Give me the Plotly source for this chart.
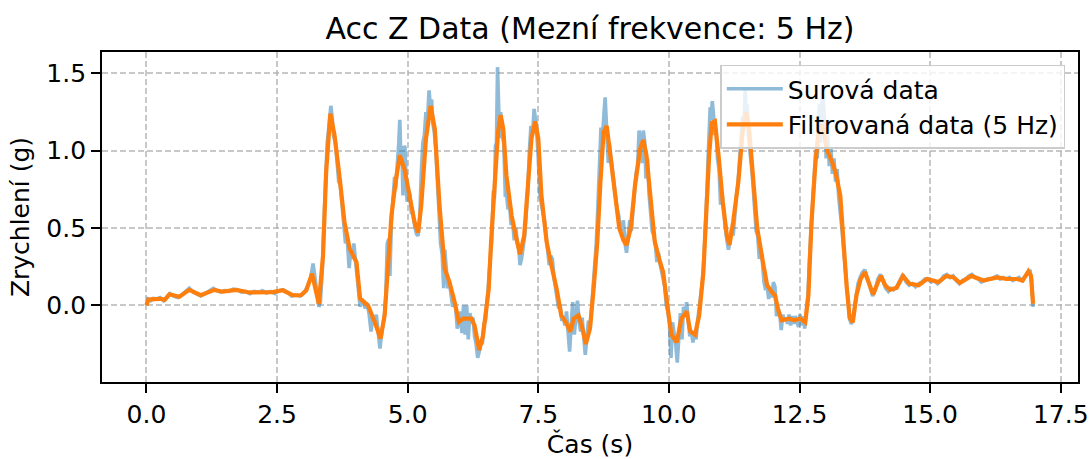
import plotly.graph_objects as go

# ---- data ----
filt_t = [0.00, 0.04, 0.15, 0.27, 0.35, 0.44, 0.63, 0.82, 1.04, 1.30, 1.46, 1.72, 1.97, 2.23, 2.42, 2.61,
          2.80, 2.96, 3.06, 3.17, 3.30, 3.38, 3.44, 3.52, 3.60, 3.70, 3.79, 3.89, 4.02, 4.09, 4.24, 4.37,
          4.48, 4.56, 4.62, 4.69, 4.77, 4.85, 4.94, 5.04, 5.13, 5.20, 5.26, 5.35, 5.44, 5.52, 5.61, 5.71,
          5.80, 5.90, 5.98, 6.06, 6.22, 6.28, 6.37, 6.44, 6.50, 6.55, 6.60, 6.67, 6.73, 6.78, 6.83, 6.89,
          6.99, 7.07, 7.15, 7.23, 7.31, 7.37, 7.44, 7.50, 7.56, 7.66, 7.75, 7.85, 7.94, 8.03, 8.11, 8.18,
          8.27, 8.33, 8.41, 8.49, 8.56, 8.63, 8.69, 8.75, 8.81, 8.88, 8.97, 9.05, 9.13, 9.19, 9.27, 9.35,
          9.45, 9.51, 9.57, 9.65, 9.73, 9.83, 9.89, 9.97, 10.05, 10.15, 10.24, 10.34, 10.41, 10.50, 10.58,
          10.66, 10.72, 10.77, 10.82, 10.88, 10.95, 11.03, 11.11, 11.16, 11.23, 11.33, 11.41, 11.48, 11.54,
          11.62, 11.69, 11.80, 11.88, 11.97, 12.03, 12.10, 12.16, 12.29, 12.41, 12.51, 12.61, 12.67, 12.73,
          12.80, 12.86, 12.93, 13.02, 13.12, 13.19, 13.28, 13.34, 13.40, 13.46, 13.52, 13.59, 13.67, 13.75,
          13.83, 13.91, 13.99, 14.06, 14.14, 14.23, 14.36, 14.48, 14.60, 14.78, 14.94, 15.16, 15.31, 15.45,
          15.57, 15.79, 16.02, 16.28, 16.47, 16.66, 16.77, 16.88, 16.93, 16.97]
filt_v = [0.00, 0.037, 0.04, 0.042, 0.035, 0.071, 0.055, 0.10, 0.065, 0.10, 0.088, 0.10, 0.083, 0.088, 0.085, 0.097,
          0.065, 0.065, 0.097, 0.204, 0.01, 0.32, 0.86, 1.24, 1.10, 0.82, 0.54, 0.366, 0.28, 0.043, 0.0, -0.108,
          -0.215, -0.065, 0.215, 0.58, 0.80, 0.97, 0.88, 0.69, 0.54, 0.47, 0.645, 1.076, 1.29, 1.14, 0.645, 0.237,
          0.15, 0.02, -0.108, -0.086, -0.086, -0.13, -0.29, -0.20, -0.05, 0.10, 0.43, 0.80, 1.12, 1.23, 1.14, 0.84,
          0.58, 0.45, 0.33, 0.45, 0.80, 1.08, 1.19, 1.08, 0.71, 0.41, 0.26, 0.11, -0.065, -0.11, -0.17, -0.086,
          -0.065, -0.13, -0.25, -0.15, 0.11, 0.41, 0.80, 1.12, 1.16, 0.97, 0.71, 0.50, 0.42, 0.39, 0.50, 0.77,
          1.01, 1.07, 0.97, 0.65, 0.41, 0.28, 0.215, 0.0, -0.19, -0.24, -0.086, -0.04, -0.17, -0.19, -0.065,
          0.215, 0.65, 0.97, 1.18, 1.19, 0.97, 0.67, 0.45, 0.39, 0.54, 0.80, 1.12, 1.25, 1.12,
          0.80, 0.50, 0.28, 0.13, 0.086, 0.065, -0.04, -0.097, -0.086, -0.097, -0.086, -0.11, 0.065, 0.54,
          0.90, 1.12, 1.17, 1.01, 0.93, 0.86, 0.71, 0.41, 0.13, -0.08, -0.11, 0.065, 0.17, 0.215,
          0.14, 0.07, 0.14, 0.19, 0.13, 0.10, 0.114, 0.19, 0.14, 0.13, 0.17, 0.15, 0.19, 0.18,
          0.145, 0.19, 0.16, 0.18, 0.17, 0.17, 0.16, 0.22, 0.19, 0.01]

raw_t = [0.00, 0.03, 0.08, 0.13, 0.20, 0.26, 0.33, 0.40, 0.45, 0.52, 0.60, 0.67, 0.75, 0.82, 0.90, 0.97,
         1.04, 1.12, 1.20, 1.28, 1.35, 1.42, 1.50, 1.58, 1.66, 1.74, 1.82, 1.90, 1.98, 2.06, 2.14, 2.22,
         2.30, 2.38, 2.46, 2.54, 2.62, 2.70, 2.78, 2.86, 2.94, 3.02, 3.08, 3.14, 3.19, 3.22, 3.26, 3.30,
         3.33, 3.37, 3.40, 3.43, 3.46, 3.50, 3.53, 3.56, 3.58, 3.62, 3.65, 3.68, 3.71, 3.75, 3.78, 3.81,
         3.84, 3.86, 3.88, 3.91, 3.94, 3.97, 4.00, 4.03, 4.06, 4.09, 4.12, 4.15, 4.19, 4.22, 4.26, 4.30,
         4.33, 4.37, 4.40, 4.44, 4.47, 4.50, 4.53, 4.56, 4.58, 4.61, 4.64, 4.66, 4.69, 4.72, 4.75, 4.77,
         4.80, 4.83, 4.85, 4.87, 4.89, 4.91, 4.93, 4.95, 4.97, 4.99, 5.01, 5.04, 5.07, 5.10, 5.13, 5.17,
         5.20, 5.23, 5.26, 5.29, 5.32, 5.35, 5.38, 5.41, 5.43, 5.46, 5.48, 5.51, 5.54, 5.57, 5.60, 5.63,
         5.66, 5.69, 5.71, 5.74, 5.77, 5.80, 5.83, 5.86, 5.89, 5.92, 5.95, 5.98, 6.01, 6.04, 6.07, 6.10,
         6.13, 6.16, 6.19, 6.22, 6.25, 6.28, 6.31, 6.34, 6.37, 6.40, 6.43, 6.46, 6.49, 6.52, 6.55, 6.58,
         6.61, 6.64, 6.66, 6.68, 6.70, 6.72, 6.74, 6.76, 6.78, 6.81, 6.84, 6.87, 6.89, 6.92, 6.95, 6.98,
         7.01, 7.04, 7.07, 7.10, 7.13, 7.15, 7.18, 7.21, 7.24, 7.27, 7.30, 7.33, 7.36, 7.39, 7.42, 7.44,
         7.47, 7.50, 7.53, 7.56, 7.59, 7.62, 7.65, 7.68, 7.71, 7.74, 7.77, 7.80, 7.83, 7.86, 7.89, 7.92,
         7.95, 7.98, 8.01, 8.04, 8.07, 8.10, 8.13, 8.16, 8.19, 8.22, 8.25, 8.28, 8.31, 8.34, 8.37, 8.40,
         8.43, 8.46, 8.49, 8.52, 8.55, 8.58, 8.61, 8.64, 8.67, 8.70, 8.72, 8.74, 8.76, 8.78, 8.80, 8.82,
         8.84, 8.86, 8.89, 8.92, 8.95, 8.98, 9.01, 9.04, 9.07, 9.10, 9.13, 9.16, 9.19, 9.22, 9.25, 9.28,
         9.31, 9.34, 9.37, 9.40, 9.43, 9.46, 9.49, 9.51, 9.54, 9.56, 9.59, 9.62, 9.65, 9.68, 9.71, 9.74,
         9.77, 9.80, 9.83, 9.86, 9.89, 9.92, 9.95, 9.98, 10.01, 10.04, 10.07, 10.10, 10.13, 10.16, 10.19, 10.22,
         10.25, 10.28, 10.31, 10.34, 10.37, 10.40, 10.43, 10.46, 10.49, 10.52, 10.55, 10.58, 10.61, 10.64, 10.67, 10.70,
         10.73, 10.75, 10.77, 10.79, 10.81, 10.83, 10.85, 10.88, 10.90, 10.93, 10.96, 10.99, 11.02, 11.05, 11.08, 11.11,
         11.14, 11.17, 11.20, 11.23, 11.26, 11.29, 11.32, 11.35, 11.38, 11.41, 11.44, 11.46, 11.48, 11.50, 11.52, 11.55,
         11.58, 11.61, 11.64, 11.67, 11.70, 11.73, 11.76, 11.79, 11.82, 11.85, 11.88, 11.91, 11.94, 11.97, 12.00, 12.03,
         12.06, 12.09, 12.12, 12.15, 12.18, 12.21, 12.24, 12.27, 12.30, 12.33, 12.36, 12.39, 12.42, 12.45, 12.48, 12.51,
         12.54, 12.57, 12.60, 12.63, 12.66, 12.69, 12.72, 12.75, 12.78, 12.81, 12.84, 12.86, 12.88, 12.90, 12.92, 12.94,
         12.96, 12.99, 13.01, 13.04, 13.07, 13.10, 13.13, 13.16, 13.19, 13.22, 13.25, 13.28, 13.31, 13.34, 13.37, 13.40,
         13.43, 13.46, 13.49, 13.52, 13.55, 13.58, 13.62, 13.66, 13.70, 13.75, 13.80, 13.85, 13.90, 13.95, 14.00, 14.05,
         14.10, 14.15, 14.20, 14.25, 14.30, 14.36, 14.42, 14.48, 14.54, 14.60, 14.66, 14.72, 14.78, 14.84, 14.90, 14.96,
         15.02, 15.08, 15.14, 15.20, 15.26, 15.32, 15.38, 15.44, 15.50, 15.56, 15.62, 15.68, 15.74, 15.80, 15.86, 15.92,
         15.98, 16.04, 16.10, 16.16, 16.22, 16.28, 16.34, 16.40, 16.46, 16.52, 16.58, 16.64, 16.70, 16.76, 16.82, 16.87,
         16.91, 16.94, 16.97]
raw_v = [0.00, 0.04, 0.03, 0.045, 0.04, 0.05, 0.03, 0.06, 0.075, 0.06, 0.05, 0.065, 0.09, 0.11, 0.085, 0.075,
         0.06, 0.075, 0.09, 0.11, 0.095, 0.085, 0.095, 0.09, 0.105, 0.10, 0.085, 0.09, 0.075, 0.09, 0.085, 0.095,
         0.08, 0.09, 0.075, 0.095, 0.10, 0.085, 0.06, 0.065, 0.06, 0.08, 0.12, 0.17, 0.27, 0.20, 0.08, -0.01,
         0.02, 0.25, 0.55, 0.85, 1.05, 1.18, 1.29, 1.20, 1.10, 1.05, 0.95, 0.80, 0.78, 0.60, 0.50, 0.40,
         0.45, 0.29, 0.24, 0.35, 0.30, 0.40, 0.30, 0.20, 0.08, -0.01, 0.04, 0.02, -0.02, 0.01, -0.05, -0.17,
         -0.08, -0.12, -0.06, -0.20, -0.28, -0.19, -0.12, -0.05, 0.05, 0.40, 0.43, 0.19, 0.55, 0.72, 0.83, 0.75,
         0.88, 1.05, 1.20, 0.95, 1.00, 0.71, 1.03, 1.02, 0.80, 0.67, 0.75, 0.72, 0.60, 0.60, 0.52, 0.46,
         0.45, 0.55, 0.85, 1.05, 1.10, 1.25, 1.20, 1.39, 1.30, 1.33, 1.18, 1.12, 1.00, 0.80, 0.60, 0.40,
         0.33, 0.11, 0.36, 0.25, 0.11, 0.15, 0.08, -0.01, 0.03, -0.02, -0.15, -0.12, -0.04, -0.18, 0.00, -0.19,
         0.00, -0.22, -0.05, -0.10, -0.08, -0.20, -0.25, -0.34, -0.30, -0.24, -0.25, -0.12, -0.10, 0.00, 0.15, 0.30,
         0.42, 0.74, 0.69, 1.03, 1.05, 1.54, 1.20, 1.08, 1.25, 1.10, 1.05, 0.70, 0.73, 0.62, 0.65, 0.52,
         0.54, 0.42, 0.50, 0.40, 0.36, 0.26, 0.30, 0.39, 0.45, 0.60, 0.75, 1.00, 1.16, 1.10, 1.27, 1.22,
         1.12, 0.95, 0.72, 0.65, 0.60, 0.54, 0.45, 0.36, 0.26, 0.32, 0.30, 0.18, 0.10, 0.05, -0.02, 0.00,
         -0.10, -0.08, -0.13, -0.04, -0.18, -0.30, -0.12, 0.02, -0.19, -0.05, 0.03, -0.10, -0.17, -0.08, -0.22, -0.32,
         -0.20, -0.10, -0.16, -0.02, 0.10, 0.25, 0.40, 0.63, 0.93, 1.15, 1.05, 1.20, 1.25, 1.345, 1.22, 1.00,
         0.92, 1.05, 0.95, 0.88, 0.75, 0.70, 0.62, 0.58, 0.48, 0.50, 0.55, 0.40, 0.34, 0.44, 0.55, 0.48,
         0.62, 0.70, 0.85, 0.90, 1.13, 1.05, 0.92, 1.13, 1.05, 0.82, 0.95, 0.72, 0.60, 0.48, 0.45, 0.40,
         0.28, 0.34, 0.27, 0.22, 0.15, 0.12, 0.00, -0.04, -0.12, -0.34, -0.11, -0.17, -0.25, -0.37, -0.15, -0.05,
         -0.22, -0.01, -0.05, 0.02, -0.10, -0.20, -0.16, -0.24, -0.17, -0.22, -0.10, -0.02, 0.05, 0.15, 0.30, 0.50,
         0.75, 0.95, 1.10, 1.28, 1.20, 1.32, 1.25, 1.10, 1.15, 0.95, 0.88, 0.65, 0.72, 0.58, 0.50, 0.42,
         0.36, 0.42, 0.50, 0.45, 0.62, 0.70, 0.78, 0.95, 1.05, 1.22, 1.20, 1.39, 1.25, 1.30, 1.10, 1.02,
         0.90, 0.78, 0.62, 0.48, 0.45, 0.30, 0.36, 0.28, 0.15, 0.10, 0.13, 0.04, 0.11, 0.05, 0.15, 0.12,
         -0.07, -0.02, -0.05, -0.16, -0.06, -0.10, -0.08, -0.12, -0.06, -0.13, -0.07, -0.12, -0.07, -0.10, -0.14, -0.06,
         -0.13, -0.07, -0.15, -0.04, 0.06, 0.30, 0.50, 0.65, 0.80, 1.00, 0.95, 1.25, 1.30, 1.05, 1.20, 1.40,
         1.30, 1.15, 0.95, 1.10, 0.90, 1.02, 0.85, 0.95, 0.80, 0.88, 0.70, 0.62, 0.50, 0.38, 0.25, 0.10,
         -0.02, -0.09, -0.12, -0.10, -0.02, 0.05, 0.14, 0.18, 0.21, 0.23, 0.17, 0.11, 0.06, 0.10, 0.17, 0.20,
         0.16, 0.11, 0.09, 0.11, 0.10, 0.12, 0.16, 0.20, 0.15, 0.13, 0.14, 0.12, 0.14, 0.15, 0.17, 0.17,
         0.15, 0.16, 0.14, 0.16, 0.19, 0.20, 0.18, 0.19, 0.16, 0.14, 0.16, 0.17, 0.19, 0.20, 0.18, 0.17,
         0.15, 0.16, 0.17, 0.17, 0.18, 0.19, 0.17, 0.18, 0.17, 0.18, 0.16, 0.17, 0.18, 0.16, 0.19, 0.22,
         0.23, 0.17, -0.01]

x_ticks = [0.0, 2.5, 5.0, 7.5, 10.0, 12.5, 15.0, 17.5]
y_ticks = [0.0, 0.5, 1.0, 1.5]

FONT = "DejaVu Sans"

fig = go.Figure()
fig.add_trace(go.Scatter(x=raw_t, y=raw_v, mode="lines", name="Surová data",
                         line=dict(color="rgba(31,119,180,0.5)", width=3.6)))
fig.add_trace(go.Scatter(x=filt_t, y=filt_v, mode="lines", name="Filtrovaná data (5 Hz)",
                         line=dict(color="#ff7f0e", width=4.2)))

axis_common = dict(
    showline=True, linecolor="black", linewidth=1.8, mirror=True,
    ticks="outside", ticklen=9, tickwidth=1.8, tickcolor="black",
    showgrid=True, gridcolor="rgba(176,176,176,0.7)", gridwidth=1.5, griddash="6px,3px",
    zeroline=False, automargin=False,
    tickfont=dict(family=FONT, size=25, color="black"),
)

fig.update_xaxes(range=[-0.85, 17.83], tickvals=x_ticks, ticktext=[f"{v:.1f}" for v in x_ticks],
                 title=dict(text="Čas (s)", font=dict(family=FONT, size=25, color="black"), standoff=6),
                 **axis_common)
fig.update_yaxes(range=[-0.496, 1.638], tickvals=y_ticks, ticktext=[f"{v:.1f}" for v in y_ticks],
                 title=dict(text="Zrychlení (g)", font=dict(family=FONT, size=25, color="black"), standoff=10),
                 **axis_common)

fig.update_layout(
    width=1090, height=459,
    margin=dict(l=102, r=12, t=52, b=77, autoexpand=False),
    plot_bgcolor="white", paper_bgcolor="white",
    font=dict(family=FONT, size=25, color="black"),
    title=dict(text="Acc Z Data (Mezní frekvence: 5 Hz)", x=0.5413, xanchor="center",
               y=1 - 28 / 459, yanchor="middle", yref="container",
               font=dict(family=FONT, size=30, color="black")),
    legend=dict(x=0.987, y=0.962, xanchor="right", yanchor="top", itemwidth=56,
                bgcolor="rgba(255,255,255,0.8)", bordercolor="#cccccc", borderwidth=1.5,
                font=dict(family=FONT, size=25, color="black")),
    showlegend=True,
)

fig.write_html("out.html")
